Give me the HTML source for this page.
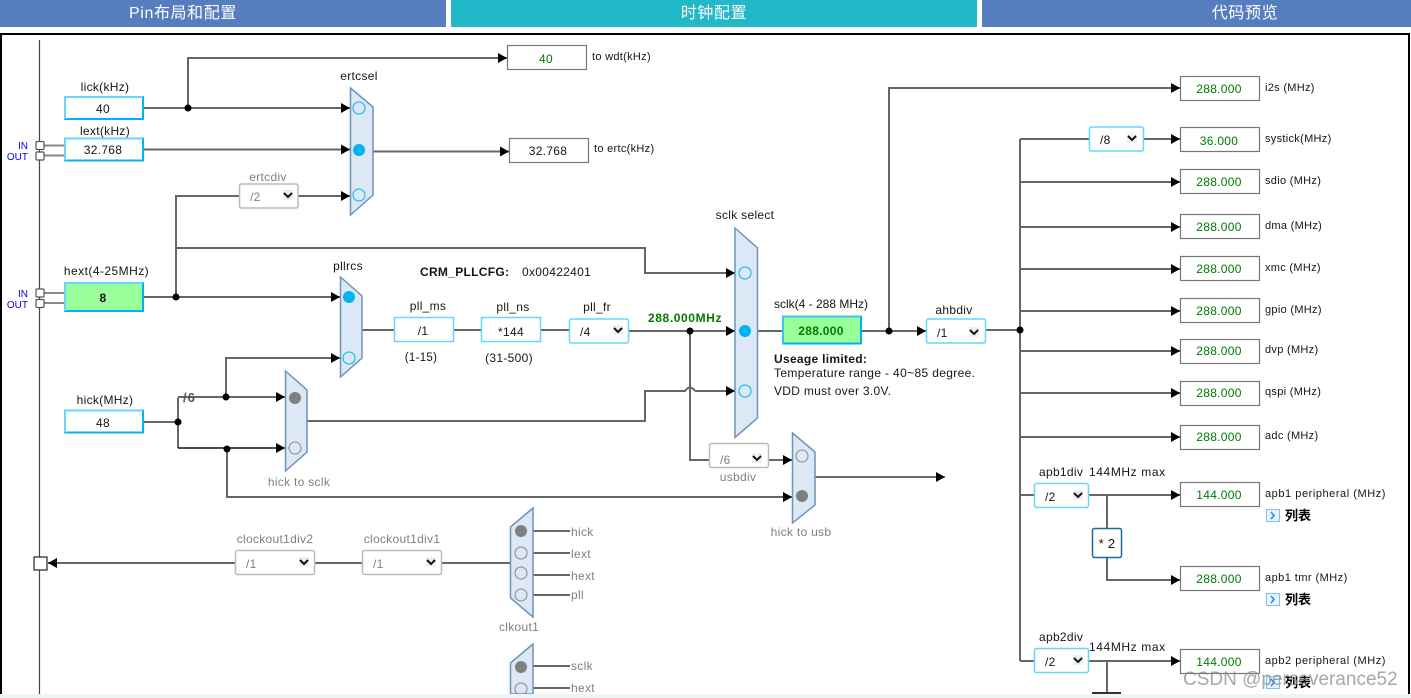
<!DOCTYPE html>
<html><head><meta charset="utf-8"><style>
html,body{margin:0;padding:0;background:#fff;width:1411px;height:698px;overflow:hidden}
svg{display:block}
text{font-family:"Liberation Sans","Noto Sans CJK SC",sans-serif;font-size:12px;fill:#151515;letter-spacing:.3px}
.g{fill:#808080}.c{text-anchor:middle}.gr{fill:#007a00}.b{font-weight:bold}
.w{fill:none;stroke:#666;stroke-width:2}
.a{marker-end:url(#ar)}
.m{fill:#dce8f5;stroke:#6f94b8;stroke-width:1.5}
.in{fill:#fff;stroke:#00b4f0;stroke-width:2}
.o{fill:#fff;stroke:#777;stroke-width:1.2}
.sb{fill:#fff;stroke:#66d6ff;stroke-width:1.5}
.sg{fill:#fff;stroke:#bbb;stroke-width:1.5}
.ch{fill:none;stroke:#111;stroke-width:2}
.co{fill:none;stroke:#00b4f0;stroke-width:1}
.cf{fill:#00b4f0}.gf{fill:#808080}.ge{fill:none;stroke:#888;stroke-width:1}
.p{fill:#fff;stroke:#555;stroke-width:1.2}
.t{fill:#fff;font-size:16px;text-anchor:middle;letter-spacing:.6px}
.s{font-size:11px}.sw{font-size:11px;letter-spacing:.55px}
.n{font-size:10px;fill:#0000f0;letter-spacing:0;text-anchor:end}
.mx{letter-spacing:.6px}
</style></head><body>
<svg width="1411" height="698" viewBox="0 0 1411 698" xmlns="http://www.w3.org/2000/svg">
<defs>
<marker id="ar" markerUnits="userSpaceOnUse" markerWidth="10" markerHeight="10" refX="9" refY="5" orient="auto"><path d="M0,0L9,5L0,10Z" fill="#000"/></marker>
</defs>
<rect width="1411" height="698" fill="#fff"/>
<rect x="0" y="0" width="446" height="27" fill="#567dbd"/>
<rect x="451" y="0" width="526" height="27" fill="#21b8c7"/>
<rect x="982" y="0" width="429" height="27" fill="#567dbd"/>
<text x="183" y="18" class="t">Pin布局和配置</text>
<text x="714" y="18" class="t">时钟配置</text>
<text x="1245" y="18" class="t">代码预览</text>
<rect x="1" y="34" width="1408" height="670" fill="#fff" stroke="#000" stroke-width="2"/>
<line x1="39.5" y1="40" x2="39.5" y2="694" stroke="#444" stroke-width="1.2"/>

<g class="wires">
<path class="w a" d="M143,108H350"/>
<path class="w a" d="M188,108V58H507"/>
<path class="w a" d="M143,149.500H350"/>
<path class="w a" d="M373,151.500H509"/>
<path class="w a" d="M143,297H340"/>
<path class="w" d="M176,297V196H239"/>
<path class="w a" d="M298,196H350"/>
<path class="w a" d="M176,248H645V273H735"/>
<path class="w" d="M362,330H394M454,330H481M541,330H569"/>
<path class="w a" d="M629,331H735"/>
<path class="w" d="M690,331V460H709"/>
<path class="w a" d="M769,460H792"/>
<path class="w" d="M143,422H178M178,398V448"/>
<path class="w a" d="M178,397H285"/>
<path class="w a" d="M226,397V358H340"/>
<path d="M178,448H285" fill="none" stroke="#111" stroke-width="1.400" marker-end="url(#ar)"/>
<path class="w a" d="M227,448V497H792"/>
<path class="w" d="M307,421H645V391H685Q690,384 695,391"/>
<path class="w a" d="M695,391H735"/>
<path d="M815,477H945" fill="none" stroke="#111" stroke-width="1.200" marker-end="url(#ar)"/>
<path class="w" d="M757,331H783"/>
<path class="w a" d="M861,331H926"/>
<path class="w a" d="M889,331V88H1180"/>
<path class="w" d="M986,330H1020M1020,139V661"/>
<path class="w" d="M1020,139H1089"/>
<path class="w a" d="M1144,139H1180"/>
<path class="w a" d="M1020,182H1180"/>
<path class="w a" d="M1020,227H1180"/>
<path class="w a" d="M1020,269H1180"/>
<path class="w a" d="M1020,311H1180"/>
<path class="w a" d="M1020,351H1180"/>
<path class="w a" d="M1020,393H1180"/>
<path class="w a" d="M1020,437H1180"/>
<path class="w" d="M1020,495H1034M1020,661H1034"/>
<path class="w a" d="M1089,495H1180"/>
<path class="w" d="M1107,495V528"/>
<path class="w a" d="M1107,558V580H1180"/>
<path class="w a" d="M1089,661H1180"/>
<path class="w" d="M1107,661V693"/>
<path d="M1092,693H1121" stroke="#333" stroke-width="2"/>
<path class="w a" d="M235,563H48"/>
<path class="w" d="M315,563H362M442,563H510"/>
<path d="M533,531H570" stroke="#111" stroke-width="1.200"/>
<path class="w" d="M533,553H570M533,575H570M533,595H570M533,666H570M533,688H570"/>
<path d="M44,145.500H65M44,155.500H65M44,293H65M44,303H65" stroke="#888" stroke-width="2" fill="none"/>
</g>

<g fill="#000">
<circle cx="188" cy="108" r="3.500"/><circle cx="176" cy="297" r="3.500"/><circle cx="226" cy="397" r="3.500"/>
<circle cx="178" cy="422" r="3.500"/><circle cx="227" cy="449" r="3.500"/><circle cx="690" cy="331" r="3.500"/>
<circle cx="889" cy="331" r="3.500"/><circle cx="1020" cy="330" r="3.500"/>
</g>

<!-- pins -->
<rect x="36" y="141.500" width="8" height="8" rx="1" class="p"/><rect x="36" y="152" width="8" height="8" rx="1" class="p"/>
<rect x="36" y="289" width="8" height="8" rx="1" class="p"/><rect x="36" y="299.500" width="8" height="8" rx="1" class="p"/>
<rect x="34" y="557" width="13" height="13" fill="#fff" stroke="#222" stroke-width="1.200"/>
<text x="28" y="149" class="n">IN</text>
<text x="28" y="160" class="n">OUT</text>
<text x="28" y="297" class="n">IN</text>
<text x="28" y="308" class="n">OUT</text>

<!-- muxes -->
<polygon class="m" points="350.500,88 373,107 373,195 350.500,215"/>
<polygon class="m" points="340.500,277 362,296 362,358 340.500,377"/>
<polygon class="m" points="285.500,371 307,390 307,452 285.500,471"/>
<polygon class="m" points="735,228 757.500,248 757.500,418 735,437.500"/>
<polygon class="m" points="792.500,433 815,452 815,505 792.500,523"/>
<polygon class="m" points="533,508 510.500,527 510.500,598 533,617"/>
<polygon class="m" points="533,644 510.500,663 510.500,694 533,694"/>
<circle class="co" cx="359" cy="108" r="6"/><circle class="cf" cx="359" cy="150" r="6"/><circle class="co" cx="359" cy="195" r="6"/>
<circle class="cf" cx="349" cy="297" r="6"/><circle class="co" cx="349" cy="358" r="6"/>
<circle class="gf" cx="295" cy="398" r="6"/><circle class="ge" cx="295" cy="448" r="6"/>
<circle class="co" cx="745" cy="273" r="6"/><circle class="cf" cx="745" cy="331" r="6"/><circle class="co" cx="745" cy="391" r="6"/>
<circle class="ge" cx="802" cy="456" r="6"/><circle class="gf" cx="802" cy="496" r="6"/>
<circle class="gf" cx="521" cy="531" r="6"/><circle class="ge" cx="521" cy="553" r="6"/><circle class="ge" cx="521" cy="573" r="6"/><circle class="ge" cx="521" cy="595" r="6"/>
<circle class="gf" cx="521" cy="667" r="6"/><circle class="ge" cx="521" cy="689" r="6"/>

<!-- input boxes -->
<rect class="in" x="65" y="97" width="78" height="22"/>
<rect class="in" x="65" y="138.500" width="78" height="22"/>
<rect class="in" x="65" y="283" width="78" height="28" style="fill:#9f9"/>
<rect class="in" x="65" y="410.500" width="78" height="22"/>
<rect class="in" x="783" y="316.500" width="78" height="27" style="fill:#9f9"/>
<path d="M65,119V97H143M65,160.500V138.500H143M65,311V283H143M65,432.500V410.500H143" fill="none" stroke="#66d6ff" stroke-width="2"/>
<path d="M783,343.500V316.500H861" fill="none" stroke="#39c6f5" stroke-width="2"/>
<text class="c" x="103" y="113">40</text>
<text class="c" x="103" y="154">32.768</text>
<text class="c b" x="103" y="302">8</text>
<text class="c" x="103" y="427">48</text>
<text class="c b gr" x="821" y="335">288.000</text>
<text class="c" x="105" y="91">lick(kHz)</text>
<text class="c" x="105" y="135">lext(kHz)</text>
<text class="c" x="106.500" y="275" style="letter-spacing:.45px">hext(4-25MHz)</text>
<text class="c" x="105" y="404">hick(MHz)</text>

<!-- selects -->
<g>
<rect class="sg" x="239.500" y="184" width="58.500" height="24" rx="2"/>
<rect class="sb" x="569.500" y="319" width="59" height="24" rx="2"/>
<rect class="sb" x="926.500" y="319" width="59" height="24" rx="2"/>
<rect class="sg" x="709.500" y="443.500" width="59" height="24" rx="2"/>
<rect class="sg" x="235.500" y="550.500" width="79" height="24" rx="2"/>
<rect class="sg" x="362.500" y="550.500" width="79" height="24" rx="2"/>
<rect class="sb" x="1089.500" y="127" width="54" height="24" rx="2"/>
<rect class="sb" x="1034.500" y="483.500" width="54" height="24" rx="2"/>
<rect class="sb" x="1034.500" y="648.500" width="54" height="24" rx="2"/>
<rect class="sb" x="394.500" y="317.500" width="59" height="24"/>
<rect class="sb" x="481.500" y="317.500" width="59" height="24"/>
<g fill="#f0f0f0">
<rect x="283" y="190" width="10" height="10"/><rect x="613" y="325" width="10" height="10"/><rect x="969" y="327" width="10" height="10"/>
<rect x="752" y="453" width="10" height="10"/><rect x="299" y="557" width="10" height="10"/><rect x="426" y="557" width="10" height="10"/>
<rect x="1127" y="133" width="10" height="10"/><rect x="1073" y="490" width="10" height="10"/><rect x="1073" y="655" width="10" height="10"/>
</g>
<path class="ch" d="M284,193l4,4l4,-4M614,328l4,4l4,-4M970,330l4,4l4,-4M753,456l4,4l4,-4M300,560l4,4l4,-4M427,560l4,4l4,-4M1128,136l4,4l4,-4M1074,493l4,4l4,-4M1074,658l4,4l4,-4"/>
</g>
<text class="g" x="250" y="201">/2</text>
<text x="580" y="336">/4</text>
<text x="937" y="337">/1</text>
<text class="g" x="720" y="464">/6</text>
<text class="g" x="246" y="568">/1</text>
<text class="g" x="373" y="568">/1</text>
<text x="1100" y="144">/8</text>
<text x="1045" y="501">/2</text>
<text x="1045" y="666">/2</text>
<text class="c" x="423" y="335">/1</text>
<text class="c" x="511" y="336">*144</text>
<rect x="1092.500" y="528.500" width="29" height="29" rx="2" fill="#fff" stroke="#1a6aa0" stroke-width="1.500"/>
<text class="c" x="1107" y="548" style="font-size:13px">* 2</text>

<!-- labels -->
<text class="c" x="359" y="80">ertcsel</text>
<text class="c g" x="268" y="181">ertcdiv</text>
<text class="c" x="348" y="270">pllrcs</text>
<text class="c" x="428" y="310">pll_ms</text>
<text class="c" x="513" y="311">pll_ns</text>
<text class="c" x="597" y="311">pll_fr</text>
<text class="c" x="421" y="361" style="font-size:11.500px">(1-15)</text>
<text class="c" x="509" y="362">(31-500)</text>
<text class="b" x="420" y="276">CRM_PLLCFG:</text>
<text x="522" y="276">0x00422401</text>
<text class="c" x="745" y="219">sclk select</text>
<text class="b gr" x="648" y="322" style="letter-spacing:.6px">288.000MHz</text>
<text x="774" y="308" style="letter-spacing:0">sclk(4 - 288 MHz)</text>
<text class="c" x="954" y="314">ahbdiv</text>
<text class="b" x="774" y="363">Useage limited:</text>
<text x="774" y="377" style="letter-spacing:.35px">Temperature range - 40~85 degree.</text>
<text x="774" y="395">VDD must over 3.0V.</text>
<text class="b" x="183" y="402" style="fill:#555;letter-spacing:1px;font-size:13px">/6</text>
<text class="c g" x="299" y="486">hick to sclk</text>
<text class="c g" x="738" y="481">usbdiv</text>
<text class="c g" x="801" y="536">hick to usb</text>
<text class="c g" x="275" y="543">clockout1div2</text>
<text class="c g" x="402" y="543">clockout1div1</text>
<text class="c g" x="519" y="631">clkout1</text>
<text class="g" x="571" y="536">hick</text>
<text class="g" x="571" y="558">lext</text>
<text class="g" x="571" y="580">hext</text>
<text class="g" x="571" y="599">pll</text>
<text class="g" x="571" y="670">sclk</text>
<text class="g" x="571" y="692">hext</text>

<!-- output boxes -->
<rect class="o" x="507.500" y="45.500" width="79" height="24"/>
<rect class="o" x="509.500" y="138.500" width="79" height="24"/>
<rect class="o" x="1180.500" y="76.500" width="79" height="24"/>
<rect class="o" x="1180.500" y="127.500" width="79" height="24"/>
<rect class="o" x="1180.500" y="169.500" width="79" height="24"/>
<rect class="o" x="1180.500" y="214.500" width="79" height="24"/>
<rect class="o" x="1180.500" y="256.500" width="79" height="24"/>
<rect class="o" x="1180.500" y="298.500" width="79" height="24"/>
<rect class="o" x="1180.500" y="339.500" width="79" height="24"/>
<rect class="o" x="1180.500" y="381.500" width="79" height="24"/>
<rect class="o" x="1180.500" y="425.500" width="79" height="24"/>
<rect class="o" x="1180.500" y="482.500" width="79" height="24"/>
<rect class="o" x="1180.500" y="566.500" width="79" height="24"/>
<rect class="o" x="1180.500" y="649.500" width="79" height="24"/>
<text class="c gr" x="546" y="63">40</text>
<text class="c" x="548" y="155">32.768</text>
<g>
<text class="c gr" x="1219" y="93">288.000</text>
<text class="c gr" x="1219" y="145">36.000</text>
<text class="c gr" x="1219" y="186">288.000</text>
<text class="c gr" x="1219" y="231">288.000</text>
<text class="c gr" x="1219" y="273">288.000</text>
<text class="c gr" x="1219" y="315">288.000</text>
<text class="c gr" x="1219" y="355">288.000</text>
<text class="c gr" x="1219" y="397">288.000</text>
<text class="c gr" x="1219" y="441">288.000</text>
<text class="c gr" x="1219" y="499">144.000</text>
<text class="c gr" x="1219" y="583">288.000</text>
<text class="c gr" x="1219" y="666">144.000</text>
</g>
<text x="592" y="60" class="s">to wdt(kHz)</text>
<text x="594" y="152" class="s">to ertc(kHz)</text>
<text x="1265" y="91" class="s">i2s (MHz)</text>
<text x="1265" y="142" class="s">systick(MHz)</text>
<text x="1265" y="184" class="s">sdio (MHz)</text>
<text x="1265" y="229" class="s">dma (MHz)</text>
<text x="1265" y="271" class="s">xmc (MHz)</text>
<text x="1265" y="313" class="s">gpio (MHz)</text>
<text x="1265" y="353" class="s">dvp (MHz)</text>
<text x="1265" y="395" class="s">qspi (MHz)</text>
<text x="1265" y="439" class="s">adc (MHz)</text>
<text x="1265" y="497" class="sw">apb1 peripheral (MHz)</text>
<text x="1265" y="581" class="s" style="letter-spacing:.45px">apb1 tmr (MHz)</text>
<text x="1265" y="664" class="sw">apb2 peripheral (MHz)</text>
<text x="1039" y="476">apb1div</text>
<text x="1089" y="476" class="mx">144MHz max</text>
<text x="1039" y="641">apb2div</text>
<text x="1089" y="651" class="mx">144MHz max</text>

<!-- list toggles -->
<g>
<rect x="1266.500" y="509.500" width="13" height="12" fill="#e8f4ff" stroke="#7cc0f5"/>
<path d="M1271,512l3,3.500l-3,3.500" fill="none" stroke="#1f8be8" stroke-width="1.500"/>
<rect x="1266.500" y="593.500" width="13" height="12" fill="#e8f4ff" stroke="#7cc0f5"/>
<path d="M1271,596l3,3.500l-3,3.500" fill="none" stroke="#1f8be8" stroke-width="1.500"/>
<rect x="1266.500" y="676.500" width="13" height="12" fill="#e8f4ff" stroke="#7cc0f5"/>
<path d="M1271,679l3,3.500l-3,3.500" fill="none" stroke="#1f8be8" stroke-width="1.500"/>
</g>
<text class="b" x="1285" y="520" style="fill:#000;font-size:13px;letter-spacing:0">列表</text>
<text class="b" x="1285" y="604" style="fill:#000;font-size:13px;letter-spacing:0">列表</text>
<text class="b" x="1285" y="687" style="fill:#000;font-size:13px;letter-spacing:0">列表</text>

<!-- bottom strip -->
<rect x="0" y="694" width="1411" height="4" fill="#eef5f7"/>
<text x="1183" y="685" style="font-size:19px;fill:#8a8a8a;fill-opacity:.75;letter-spacing:0">CSDN @perseverance52</text>
</svg>
</body></html>
